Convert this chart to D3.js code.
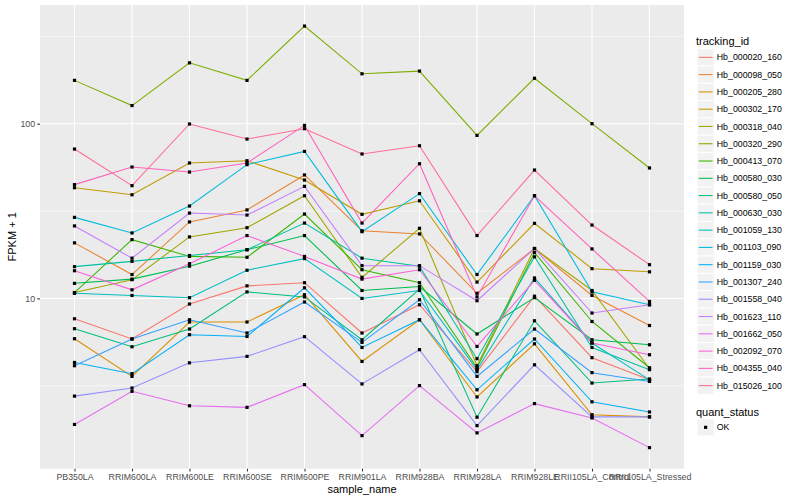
<!DOCTYPE html>
<html>
<head>
<meta charset="utf-8">
<script src="https://cdn.jsdelivr.net/npm/d3@7"></script>
<style>
body { margin: 0; background: #fff; }
text { font-family: "Liberation Sans", Arial, Helvetica, sans-serif; }
</style>
</head>
<body>
<div class="chart"></div>
<script>
var svgWidth = 800;
var svgHeight = 500;

// panel box, in pixels
var margin = { top: 5, right: 116, bottom: 31.3, left: 40 };
var width = svgWidth - margin.left - margin.right;
var height = svgHeight - margin.top - margin.bottom;

// samples on the x axis
var samples = ["PB350LA", "RRIM600LA", "RRIM600LE", "RRIM600SE", "RRIM600PE", "RRIM901LA",
  "RRIM928BA", "RRIM928LA", "RRIM928LE", "RRII105LA_Control", "RRII105LA_Stressed"];

var trackingIds = ["Hb_000020_160", "Hb_000098_050", "Hb_000205_280", "Hb_000302_170",
  "Hb_000318_040", "Hb_000320_290", "Hb_000413_070", "Hb_000580_030", "Hb_000580_050",
  "Hb_000630_030", "Hb_001059_130", "Hb_001103_090", "Hb_001159_030", "Hb_001307_240",
  "Hb_001558_040", "Hb_001623_110", "Hb_001662_050", "Hb_002092_070", "Hb_004355_040",
  "Hb_015026_100"];

// FPKM + 1 per sample, one array per gene
var hb_000020_160 = [7.65, 5.86, 9.29, 11.8, 12.3, 6.34, 9.20, 3.81, 10.3, 4.58, 3.42];
var hb_000098_050 = [20.8, 13.7, 27.4, 32.1, 50.9, 24.4, 23.4, 10.7, 19.3, 10.4, 7.00];
var hb_000205_280 = [5.88, 3.58, 7.33, 7.33, 10.5, 4.36, 7.55, 2.73, 5.50, 2.16, 2.10];
var hb_000302_170 = [43.0, 39.2, 59.6, 61.4, 47.6, 30.3, 36.2, 12.4, 26.9, 14.8, 14.2];
var hb_000318_040 = [10.8, 12.8, 22.5, 25.4, 38.7, 13.2, 25.2, 4.12, 19.3, 11.1, 3.96];
var hb_000320_290 = [177, 127, 223, 177, 362, 193, 200, 85.7, 182, 100, 55.8];
var hb_000413_070 = [10.8, 21.7, 17.4, 17.2, 30.4, 14.6, 12.3, 4.01, 18.3, 7.38, 4.01];
var hb_000580_030 = [12.2, 12.9, 15.3, 19.0, 22.9, 11.1, 11.7, 6.26, 10.1, 5.80, 5.43];
var hb_000580_050 = [6.71, 5.29, 6.68, 10.9, 10.2, 5.80, 11.3, 2.09, 7.45, 3.28, 3.46];
var hb_000630_030 = [15.2, 16.3, 17.6, 19.0, 27.0, 17.0, 15.3, 4.52, 17.3, 5.24, 3.91];
var hb_001059_130 = [10.7, 10.4, 10.1, 14.5, 16.9, 10.0, 11.1, 3.91, 13.1, 5.56, 3.42];
var hb_001103_090 = [29.1, 23.7, 33.8, 58.3, 69.4, 24.1, 39.8, 13.7, 38.7, 10.9, 9.20];
var hb_001159_030 = [4.30, 3.71, 6.20, 6.06, 11.5, 5.24, 7.55, 3.00, 5.86, 2.56, 2.24];
var hb_001307_240 = [4.12, 5.86, 7.55, 6.34, 9.54, 5.60, 9.83, 3.58, 6.68, 3.76, 3.35];
var hb_001558_040 = [2.76, 3.07, 4.28, 4.66, 6.04, 3.24, 5.09, 1.87, 4.17, 2.10, 2.10];
var hb_001623_110 = [26.0, 17.0, 30.8, 30.0, 43.8, 15.4, 15.4, 9.70, 19.3, 8.25, 9.20];
var hb_001662_050 = [1.90, 2.94, 2.43, 2.38, 3.21, 1.64, 3.17, 1.70, 2.50, 2.07, 1.40];
var hb_002092_070 = [14.4, 11.2, 15.8, 22.9, 17.4, 12.9, 14.6, 5.31, 12.7, 5.56, 4.76];
var hb_004355_040 = [44.8, 56.5, 52.9, 59.6, 97.8, 27.0, 59.0, 10.2, 38.7, 19.2, 9.61];
var hb_015026_100 = [71.6, 44.2, 99.6, 81.7, 93.6, 67.1, 74.8, 22.9, 54.3, 26.3, 15.6];

var seriesValues = [hb_000020_160, hb_000098_050, hb_000205_280, hb_000302_170, hb_000318_040,
  hb_000320_290, hb_000413_070, hb_000580_030, hb_000580_050, hb_000630_030, hb_001059_130,
  hb_001103_090, hb_001159_030, hb_001307_240, hb_001558_040, hb_001623_110, hb_001662_050,
  hb_002092_070, hb_004355_040, hb_015026_100];

var quantStatus = ["OK"];

// y axis breaks
var majorTicks = [10, 100];
var minorTicks = [Math.pow(10, 0.5), Math.pow(10, 1.5), Math.pow(10, 2.5)];

// ggplot default hue palette for 20 levels
var palette = ["#F8766D", "#EA8331", "#D89000", "#C09B00", "#A3A500", "#7CAE00", "#39B600",
  "#00BB4E", "#00BF7D", "#00C1A3", "#00BFC4", "#00BAE0", "#00B0F6", "#35A2FF", "#9590FF",
  "#C77CFF", "#E76BF3", "#FA62DB", "#FF62BC", "#FF6C91"];

var data = trackingIds.map((id, i) => ({
  id: id,
  values: samples.map((s, j) => ({ sample: s, value: seriesValues[i][j] }))
}));

var svg = d3.select(".chart")
  .append("svg")
  .attr("width", svgWidth)
  .attr("height", svgHeight);

var chartGroup = svg.append("g")
  .attr("transform", `translate(${margin.left}, ${margin.top})`);

// scales
var xScale = d3.scalePoint()
  .domain(samples)
  .range([0, width])
  .padding(0.6);

var allLogs = seriesValues.flat().map(v => Math.log10(v));
var lo = d3.min(allLogs), hi = d3.max(allLogs);
var pad = (hi - lo) * 0.05;
var yScale = d3.scaleLog()
  .domain([Math.pow(10, lo - pad), Math.pow(10, hi + pad)])
  .range([height, 0]);

// panel + grid
chartGroup.append("rect")
  .attr("width", width)
  .attr("height", height)
  .attr("fill", "#EBEBEB");

chartGroup.selectAll(".minor")
  .data(minorTicks)
  .enter()
  .append("line")
  .attr("x1", 0).attr("x2", width)
  .attr("y1", d => yScale(d)).attr("y2", d => yScale(d))
  .attr("stroke", "#fff")
  .attr("stroke-width", 0.55);

chartGroup.selectAll(".majorY")
  .data(majorTicks)
  .enter()
  .append("line")
  .attr("x1", 0).attr("x2", width)
  .attr("y1", d => yScale(d)).attr("y2", d => yScale(d))
  .attr("stroke", "#fff")
  .attr("stroke-width", 1.1);

chartGroup.selectAll(".majorX")
  .data(samples)
  .enter()
  .append("line")
  .attr("y1", 0).attr("y2", height)
  .attr("x1", d => xScale(d)).attr("x2", d => xScale(d))
  .attr("stroke", "#fff")
  .attr("stroke-width", 1.1);

// lines
var line = d3.line()
  .x(d => xScale(d.sample))
  .y(d => yScale(d.value));

chartGroup.selectAll(".series")
  .data(data)
  .enter()
  .append("path")
  .attr("d", d => line(d.values))
  .attr("fill", "none")
  .attr("stroke", (d, i) => palette[i])
  .attr("stroke-width", 1.07);

// points
chartGroup.selectAll(".pointGroup")
  .data(data)
  .enter()
  .append("g")
  .selectAll("rect")
  .data(d => d.values)
  .enter()
  .append("rect")
  .attr("x", d => xScale(d.sample) - 1.6)
  .attr("y", d => yScale(d.value) - 1.6)
  .attr("width", 3.2)
  .attr("height", 3.2)
  .attr("fill", "#000");

// axes
var leftAxis = d3.axisLeft(yScale)
  .tickValues(majorTicks)
  .tickFormat(d3.format("d"))
  .tickSize(2.74)
  .tickPadding(2.2);

var bottomAxis = d3.axisBottom(xScale)
  .tickSize(2.74)
  .tickPadding(2.2);

var yAxis = chartGroup.append("g").call(leftAxis);
var xAxis = chartGroup.append("g")
  .attr("transform", `translate(0, ${height})`)
  .call(bottomAxis);

[yAxis, xAxis].forEach(ax => {
  ax.select(".domain").remove();
  ax.selectAll(".tick line").attr("stroke", "#333333").attr("stroke-width", 1.07);
  ax.selectAll(".tick text")
    .attr("fill", "#4D4D4D")
    .style("font-size", "8.8px")
    .style("font-family", "'Liberation Sans', Arial, sans-serif");
});

// axis titles
chartGroup.append("text")
  .attr("x", width / 2)
  .attr("y", height + 24.5)
  .attr("text-anchor", "middle")
  .style("font-size", "11px")
  .text("sample_name");

chartGroup.append("text")
  .attr("transform", "rotate(-90)")
  .attr("x", -height / 2)
  .attr("y", -24)
  .attr("text-anchor", "middle")
  .style("font-size", "11px")
  .text("FPKM + 1");

// legend: tracking_id
var keySize = 17.28;
var legend = svg.append("g")
  .attr("transform", "translate(697, 0)");

legend.append("text")
  .attr("x", -1)
  .attr("y", 44.5)
  .style("font-size", "11px")
  .text("tracking_id");

var keys = legend.selectAll(".key")
  .data(trackingIds)
  .enter()
  .append("g")
  .attr("transform", (d, i) => `translate(0, ${48.7 + i * keySize})`);

keys.append("rect")
  .attr("width", keySize)
  .attr("height", keySize)
  .attr("fill", "#F2F2F2")
  .attr("stroke", "#fff")
  .attr("stroke-width", 1);

keys.append("line")
  .attr("x1", 1.7).attr("x2", keySize - 1.7)
  .attr("y1", keySize / 2).attr("y2", keySize / 2)
  .attr("stroke", (d, i) => palette[i])
  .attr("stroke-width", 1.07);

keys.append("text")
  .attr("x", keySize + 2.5)
  .attr("y", keySize / 2)
  .attr("dy", "0.35em")
  .style("font-size", "8.8px")
  .text(d => d);

// legend: quant_status
legend.append("text")
  .attr("x", -1)
  .attr("y", 415.5)
  .style("font-size", "11px")
  .text("quant_status");

var qKeys = legend.selectAll(".qkey")
  .data(quantStatus)
  .enter()
  .append("g")
  .attr("transform", (d, i) => `translate(0, ${418.7 + i * keySize})`);

qKeys.append("rect")
  .attr("width", keySize)
  .attr("height", keySize)
  .attr("fill", "#F2F2F2")
  .attr("stroke", "#fff")
  .attr("stroke-width", 1);

qKeys.append("rect")
  .attr("x", keySize / 2 - 1.6)
  .attr("y", keySize / 2 - 1.6)
  .attr("width", 3.2)
  .attr("height", 3.2)
  .attr("fill", "#000");

qKeys.append("text")
  .attr("x", keySize + 2.5)
  .attr("y", keySize / 2)
  .attr("dy", "0.35em")
  .style("font-size", "8.8px")
  .text(d => d);
</script>
</body>
</html>
